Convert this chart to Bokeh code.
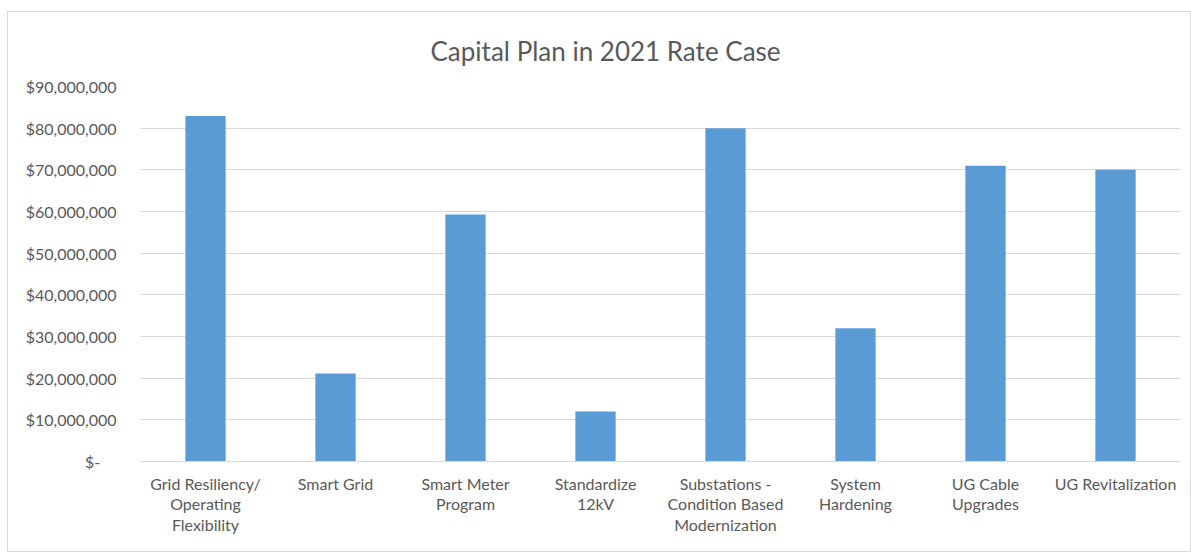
from bokeh.plotting import figure
from bokeh.models import FactorRange, Range1d, NumeralTickFormatter, Title
from bokeh.embed import file_html
from bokeh.resources import INLINE

categories = ["Grid Resiliency/\nOperating\nFlexibility", "Smart Grid", "Smart Meter\nProgram",
              "Standardize\n12kV", "Substations -\nCondition Based\nModernization", "System\nHardening",
              "UG Cable\nUpgrades", "UG Revitalization"]
values = [82900000, 21100000, 59300000, 12000000, 80000000, 32000000, 71000000, 70000000]
y_ticks = [0, 10000000, 20000000, 30000000, 40000000, 50000000, 60000000, 70000000, 80000000, 90000000]
title_text = "Capital Plan in 2021 Rate Case"

FONT = "Lato"
GREY = "#595959"

p = figure(x_range=FactorRange(*categories, range_padding=0), y_range=Range1d(0, 90000000),
           width=1184, height=541, output_backend="svg", toolbar_location=None,
           min_border_left=132, min_border_right=12, min_border_top=74, min_border_bottom=92)
p.styles = {"border": "1px solid #d9d9d9", "margin-left": "7px", "margin-top": "11px", "box-sizing": "border-box"}
p.x_range.factor_padding = 0

p.vbar(x=categories, top=values, width=0.31, color="#5b9bd5", line_color=None)

p.title = Title(text=title_text, align="left", offset=290, standoff=35, vertical_align="top",
                text_font=FONT, text_font_size="26px", text_color=GREY, text_font_style="normal")

p.outline_line_color = None
p.background_fill_color = "white"
p.border_fill_color = "white"

p.xgrid.grid_line_color = None
p.ygrid.grid_line_color = "#d9d9d9"
p.ygrid.grid_line_width = 1

p.yaxis.ticker = y_ticks
p.yaxis.formatter = NumeralTickFormatter(format="$0,0")
p.yaxis.major_label_overrides = {0: "$-\u00a0\u00a0\u00a0\u00a0"}
p.yaxis.axis_line_color = None
p.yaxis.major_tick_line_color = None
p.yaxis.minor_tick_line_color = None
p.yaxis.major_label_text_font = FONT
p.yaxis.major_label_text_font_size = "16px"
p.yaxis.major_label_text_color = GREY
p.yaxis.major_label_standoff = 18

p.xaxis.axis_line_color = "#d9d9d9"
p.xaxis.major_tick_line_color = None
p.xaxis.minor_tick_line_color = None
p.xaxis.major_label_text_font = FONT
p.xaxis.major_label_text_font_size = "16px"
p.xaxis.major_label_text_color = GREY
p.xaxis.major_label_text_line_height = 1.1
p.xaxis.major_label_standoff = 6
p.xaxis.major_label_orientation = "horizontal"

open("out.html", "w").write(file_html(p, INLINE))
